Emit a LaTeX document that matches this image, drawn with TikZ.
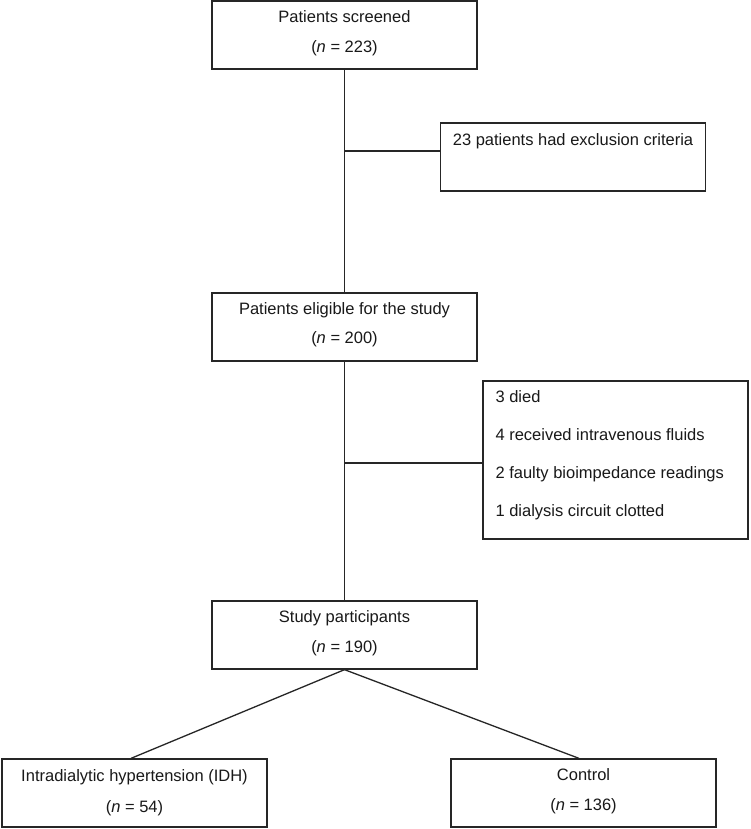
\documentclass[tikz,border=0pt]{standalone}
\usepackage{fontspec}
\setmainfont{Liberation Sans}
\usetikzlibrary{calc}
\begin{document}
\begin{tikzpicture}[x=1pt,y=-1pt,
  box/.style={draw=black!85,line width=1.3pt,rectangle,minimum width=265pt,minimum height=68pt,inner sep=0pt,fill=white},
  txt/.style={anchor=base,inner sep=0pt,font=\fontsize{16.5}{20}\selectfont,text=black!90},
  ltxt/.style={anchor=base west,inner sep=0pt,font=\fontsize{16.5}{20}\selectfont,text=black!90},
  conn/.style={draw=black!85,line width=1.3pt}]
\useasboundingbox (0,0) rectangle (750,829);
\fill[white] (0,0) rectangle (750,829);
% boxes
\node[box] (b1) at (344.5,35) {};
\node[box] (excl) at (573,157) {};
\node[box] (b2) at (344.5,327) {};
\node[box,minimum height=158pt] (reasons) at (615.5,460) {};
\node[box] (b3) at (344.5,635) {};
\node[box] (lb) at (134.5,793) {};
\node[box] (rb) at (583.5,793) {};
% texts
\node[txt] (b1a) at ($(b1.north)+(0,22)$) {Patients screened};
\node[txt] (b1b) at ($(b1.north)+(0,52)$) {(\textit{n} = 223)};
\node[txt] (excla) at ($(excl.north)+(0,23)$) {23 patients had exclusion criteria};
\node[txt] (b2a) at ($(b2.north)+(0,22)$) {Patients eligible for the study};
\node[txt] (b2b) at ($(b2.north)+(0,51)$) {(\textit{n} = 200)};
\node[ltxt] (r1) at ($(reasons.north west)+(13,22)$) {3 died};
\node[ltxt] (r2) at ($(reasons.north west)+(13,60)$) {4 received intravenous fluids};
\node[ltxt] (r3) at ($(reasons.north west)+(13,98)$) {2 faulty bioimpedance readings};
\node[ltxt] (r4) at ($(reasons.north west)+(13,136)$) {1 dialysis circuit clotted};
\node[txt] (b3a) at ($(b3.north)+(0,22)$) {Study participants};
\node[txt] (b3b) at ($(b3.north)+(0,52)$) {(\textit{n} = 190)};
\node[txt] (lba) at ($(lb.north)+(0,23)$) {Intradialytic hypertension (IDH)};
\node[txt] (lbb) at ($(lb.north)+(0,54)$) {(\textit{n} = 54)};
\node[txt] (rba) at ($(rb.north)+(0,22)$) {Control};
\node[txt] (rbb) at ($(rb.north)+(0,52)$) {(\textit{n} = 136)};
% connectors
\coordinate (j1) at (344.5,151);
\coordinate (j2) at (344.5,463);
\draw[conn] (b1.south) -- (b2.north);
\draw[conn] (j1) -- (j1 -| excl.west);
\draw[conn] (b2.south) -- (b3.north);
\draw[conn] (j2) -- (j2 -| reasons.west);
\draw[conn] (b3.south) -- ($(lb.north)+(-3.5,0)$);
\draw[conn] (b3.south) -- ($(rb.north)+(-4.5,0)$);
\end{tikzpicture}
\end{document}
